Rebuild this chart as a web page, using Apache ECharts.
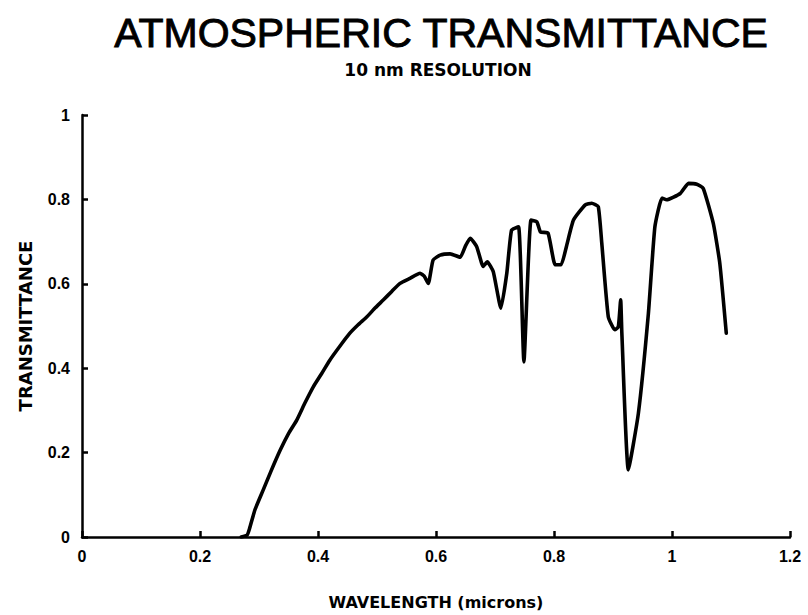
<!DOCTYPE html>
<html>
<head>
<meta charset="utf-8">
<script src="https://cdn.jsdelivr.net/npm/echarts@6/dist/echarts.min.js"></script>
<style>
  html, body { margin: 0; padding: 0; background: #fff; }
  #chart { width: 808px; height: 615px; }
</style>
</head>
<body>
<div id="chart"></div>
<script>
// Atmospheric transmittance spectrum, 10 nm resolution
const wavelength = [
  0.270, 0.280, 0.284, 0.293, 0.307, 0.320, 0.336, 0.350, 0.364, 0.378,
  0.392, 0.406, 0.420, 0.437, 0.454, 0.468, 0.483, 0.497, 0.511, 0.525,
  0.539, 0.556, 0.573, 0.580, 0.587, 0.595, 0.607, 0.624, 0.641, 0.650,
  0.658, 0.669, 0.680, 0.687, 0.697, 0.710, 0.720, 0.728, 0.740, 0.749,
  0.761, 0.771, 0.777, 0.790, 0.802, 0.812, 0.821, 0.833, 0.853, 0.864,
  0.875, 0.881, 0.892, 0.903, 0.909, 0.913, 0.915, 0.926, 0.943, 0.960,
  0.971, 0.983, 0.991, 1.014, 1.028, 1.042, 1.053, 1.070, 1.081, 1.092
];
const transmittance = [
  0.000, 0.005, 0.020, 0.064, 0.111, 0.155, 0.206, 0.245, 0.277, 0.318,
  0.356, 0.387, 0.419, 0.452, 0.483, 0.503, 0.522, 0.543, 0.562, 0.582,
  0.601, 0.613, 0.625, 0.618, 0.601, 0.656, 0.668, 0.671, 0.663, 0.690,
  0.708, 0.688, 0.641, 0.652, 0.629, 0.542, 0.625, 0.727, 0.735, 0.415,
  0.751, 0.747, 0.723, 0.720, 0.645, 0.645, 0.688, 0.751, 0.787, 0.791,
  0.783, 0.696, 0.522, 0.491, 0.498, 0.562, 0.483, 0.159, 0.293, 0.530,
  0.735, 0.803, 0.799, 0.814, 0.838, 0.836, 0.826, 0.743, 0.649, 0.483
];

const titleText = 'ATMOSPHERIC TRANSMITTANCE';
const subtitleText = '10 nm RESOLUTION';
const xName = 'WAVELENGTH (microns)';
const yName = 'TRANSMITTANCE';

const points = wavelength.map((w, i) => [w, transmittance[i]]);
const font = '"Liberation Sans", Arial, Helvetica, sans-serif';
const wideFont = '"DejaVu Sans", "Liberation Sans", sans-serif';
const ink = '#000';

const chart = echarts.init(document.getElementById('chart'), null, { renderer: 'svg' });
chart.setOption({
  backgroundColor: '#fff',
  animation: false,
  graphic: [
    {
      type: 'text', x: 441, y: 12,
      style: { text: titleText, font: 'normal 41px ' + font, fill: ink,
               stroke: ink, lineWidth: 0.9,
               textAlign: 'center', textVerticalAlign: 'top' }
    },
    {
      type: 'text', x: 438, y: 61,
      style: { text: subtitleText, font: 'bold 17px ' + wideFont, fill: ink,
               textAlign: 'center', textVerticalAlign: 'top' }
    }
  ],
  grid: { left: 82, right: 18, top: 115, bottom: 78, containLabel: false },
  xAxis: {
    type: 'value', min: 0, max: 1.2, interval: 0.2,
    name: xName, nameLocation: 'middle', nameGap: 57,
    nameTextStyle: { fontFamily: wideFont, fontWeight: 'bold', fontSize: 16, color: ink },
    axisLine: { lineStyle: { color: ink, width: 2.5 } },
    axisTick: { inside: true, length: 6, lineStyle: { color: ink, width: 2.5 } },
    axisLabel: { margin: 11, fontFamily: font, fontWeight: 'bold', fontSize: 16, color: ink },
    splitLine: { show: false }
  },
  yAxis: {
    type: 'value', min: 0, max: 1, interval: 0.2,
    name: yName, nameLocation: 'middle', nameGap: 48, nameRotate: 90,
    nameTextStyle: { fontFamily: wideFont, fontWeight: 'bold', fontSize: 18, color: ink },
    axisLine: { lineStyle: { color: ink, width: 2.5 } },
    axisTick: { inside: true, length: 6, lineStyle: { color: ink, width: 2.5 } },
    axisLabel: { margin: 12, fontFamily: font, fontWeight: 'bold', fontSize: 16, color: ink },
    splitLine: { show: false }
  },
  series: [{
    type: 'line',
    data: points,
    showSymbol: false,
    smooth: 0.15,
    lineStyle: { color: ink, width: 3.6, join: 'round', cap: 'round' }
  }]
});
</script>
</body>
</html>
